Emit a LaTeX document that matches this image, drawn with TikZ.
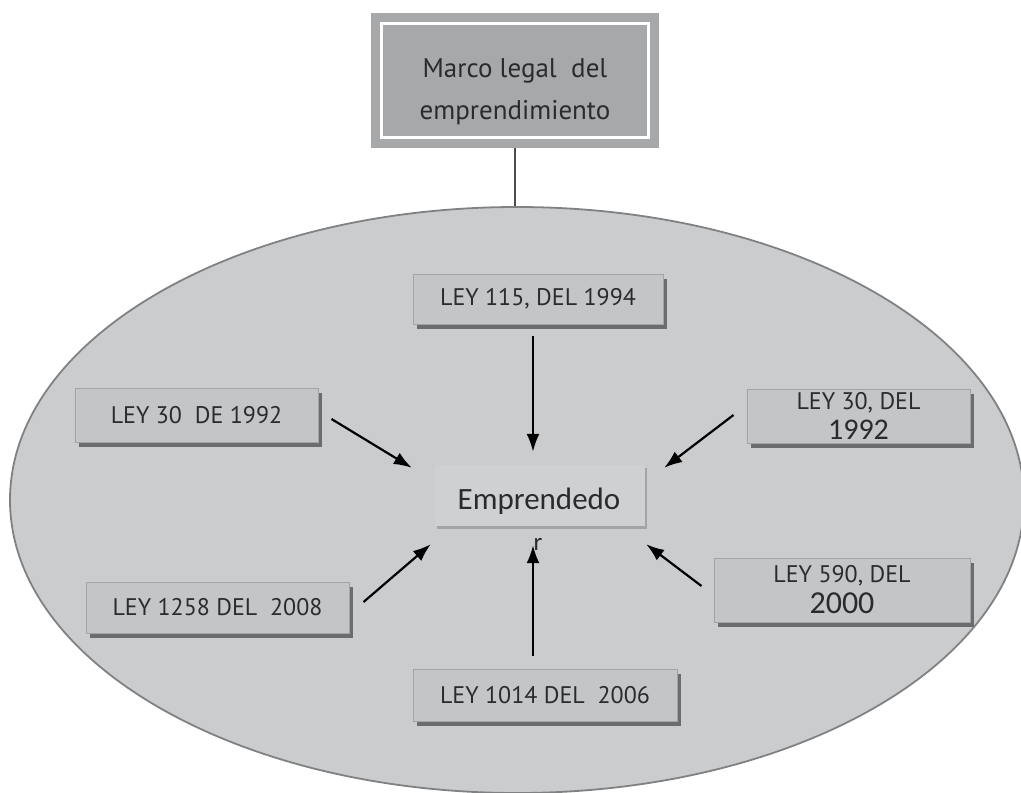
\documentclass[tikz,border=0pt]{standalone}
\usepackage{fontspec}
\setmainfont{PT Sans}
\newfontfamily\calibri{Carlito}
\usetikzlibrary{arrows.meta,shadows,shapes.geometric,calc}
\definecolor{ovalgray}{HTML}{CBCCCE}
\definecolor{ovalline}{HTML}{808183}
\definecolor{boxgray}{HTML}{C4C5C7}
\definecolor{boxline}{HTML}{A3A4A6}
\definecolor{shadowgray}{HTML}{6B6C6E}
\definecolor{titlegray}{HTML}{A7A8AA}
\definecolor{emprgray}{HTML}{CFD0D2}
\definecolor{textgray}{HTML}{2B2B2B}
\begin{document}
\begin{tikzpicture}[%
            x=1pt, y=-1pt,
            ley/.style={
                draw=boxline, fill=boxgray, line width=1pt,
                general shadow={fill=shadowgray, shadow xshift=4pt, shadow yshift=-5pt},
                inner sep=0pt, align=center, text=textgray,
                font=\fontsize{24}{25}\selectfont,
            },
            flecha/.style={
                -{Latex[length=18pt,width=13pt]},
                line width=2.2pt,
            },
        ]
    \useasboundingbox (0,0) rectangle (1021,793);
    \node[ellipse, draw=ovalline, line width=1.8pt, fill=ovalgray,
        minimum width=1014pt, minimum height=586pt, inner sep=0pt] (oval) at (517,500) {};
    \node[draw=titlegray, line width=9pt, double=white, double distance=3pt,
        fill=titlegray, minimum width=267pt, minimum height=114pt,
        outer sep=10.5pt] (titulo) at (515,80.5) {};
    \node[align=center, text=textgray, inner sep=0pt,
        font=\fontsize{27}{42}\selectfont] (titulotxt) at ($(titulo.center)+(0,11)$)
        {Marco legal\ \ del\\emprendimiento};
    \draw[line width=1.5pt, draw=black!70] (titulo.south) -- (titulo.south |- oval.north);

    \node[ley, minimum width=250pt, minimum height=50pt] (ley115) at (538,299) {LEY 115, DEL 1994};
    \node[ley, minimum width=243pt, minimum height=54pt] (ley30a) at (196.5,415) {LEY 30\ \ DE 1992};
    \node[ley, minimum width=223pt, minimum height=54pt] (ley30b) at (858.5,416)
        {LEY 30, DEL\\[5pt]{\calibri\fontsize{30}{24}\selectfont 1992}};
    \node[ley, minimum width=263pt, minimum height=51pt] (ley1258) at (217.5,607.5) {LEY 1258 DEL\ \ 2008};
    \node[ley, minimum width=256pt, minimum height=64pt] (ley590) at (842,590)
        {LEY 590, DEL\\[6pt]{\calibri\fontsize{32}{30}\selectfont 2000}};
    \node[ley, minimum width=264pt, minimum height=52pt] (ley1014) at (545,695) {LEY 1014 DEL\ \ 2006};

    \node[fill=emprgray, minimum width=210pt, minimum height=61pt, inner sep=0pt,
        general shadow={fill=boxline, shadow xshift=2pt, shadow yshift=-3pt}] (empr) at (540,495.5) {};
    \node[anchor=base, inner sep=0pt, text=textgray,
        font=\calibri\fontsize{31}{36}\selectfont] (emprtxt) at (539,509) {Emprendedo};
    \node[anchor=base, inner sep=0pt, text=textgray,
        font=\calibri\fontsize{25}{30}\selectfont] (emprr) at (538,550) {r};

    \draw[flecha] ($(ley115.south)+(-5,11)$) -- ($(empr.north)+(-7,-13)$);
    \draw[flecha] ($(ley30a.east)+(13,4)$) -- ($(empr.north west)+(-23,3)$);
    \draw[flecha] ($(ley30b.west)+(-13,-1)$) -- ($(empr.north east)+(19,3)$);
    \draw[flecha] ($(ley1258.east)+(14,-5.5)$) -- ($(empr.south west)+(-4,18)$);
    \draw[flecha] ($(ley1014.north)+(-12,-13)$) -- ($(empr.south)+(-7,19)$);
    \draw[flecha] ($(ley590.west)+(-12,-4)$) -- ($(empr.south east)+(1,18)$);
\end{tikzpicture}
\end{document}
